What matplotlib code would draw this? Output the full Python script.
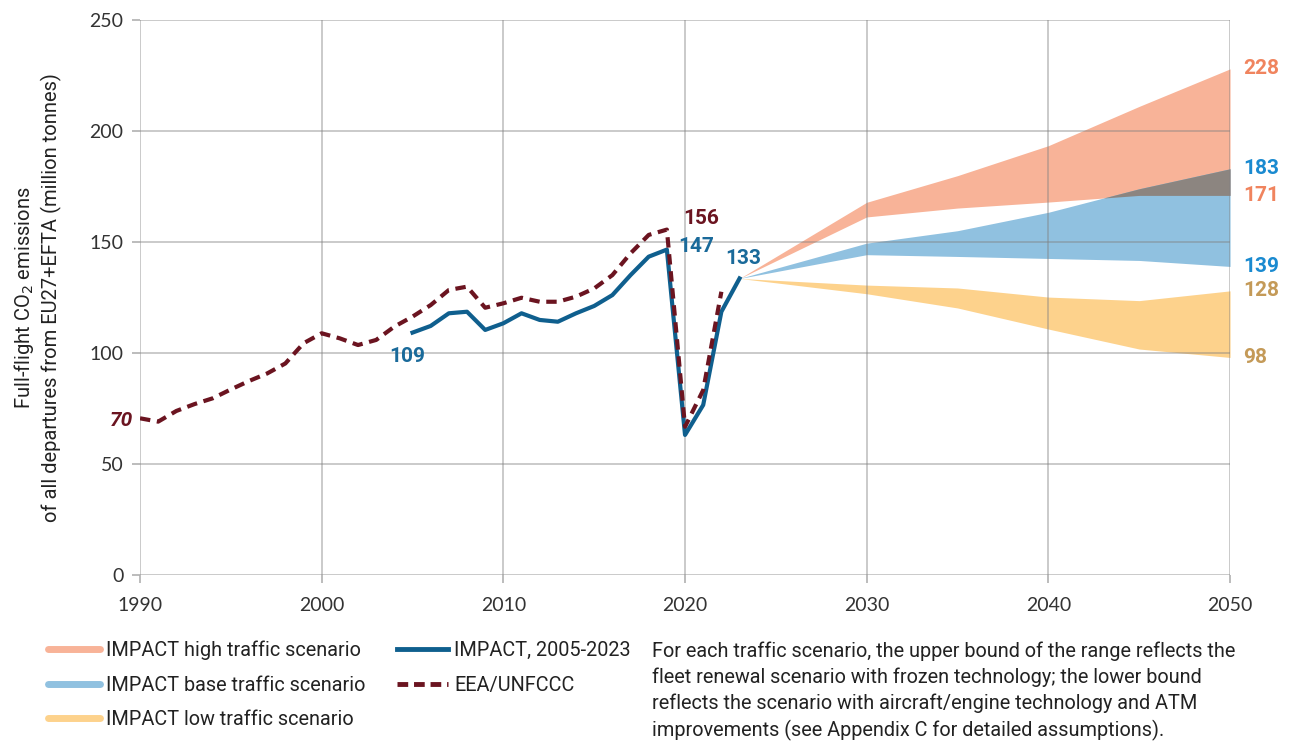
import numpy as np
import matplotlib.pyplot as plt
from matplotlib.lines import Line2D

# data
eea_years = list(range(1990, 2023))
eea_values = [70.6, 69.1, 73.9, 77.0, 79.6, 83.6, 87.4, 90.8, 95.3, 104.4,
              108.9, 106.6, 103.6, 105.9, 111.9, 116.4, 121.6, 128.4, 129.9, 120.4,
              122.4, 124.9, 123.1, 123.1, 125.4, 129.1, 135.1, 144.9, 153.2, 155.6,
              66.8, 83.3, 127.6]

impact_years = list(range(2005, 2024))
impact_values = [109.2, 112.2, 117.9, 118.6, 110.4, 113.4, 117.9, 114.9, 114.1, 117.9,
                 121.2, 126.1, 135.1, 143.4, 146.6, 63.1, 76.6, 118.6, 133.6]

scen_years = [2023, 2030, 2035, 2040, 2045, 2050]
high_upper = [133.6, 167.9, 179.9, 193.4, 211.1, 228.0]
high_lower = [133.6, 161.3, 165.3, 168.0, 171.0, 171.0]
base_upper = [133.6, 149.5, 155.1, 163.4, 174.0, 183.0]
base_lower = [133.6, 144.3, 143.5, 142.6, 141.7, 139.0]
low_upper = [133.6, 130.6, 129.3, 125.2, 123.6, 128.0]
low_lower = [133.6, 126.7, 120.3, 110.8, 101.8, 98.0]

end_labels = ['228', '183', '171', '139', '128', '98']
end_values = [228, 183, 171, 139, 128, 98]

c_high = '#f8b398'
c_base = '#90c1e0'
c_low = '#fdd28c'
c_overlap = '#8c8580'
c_impact = '#0f5f8e'
c_eea = '#6b1420'
end_colors = ['#f0845e', '#1a8ad0', '#f0845e', '#1a8ad0', '#c49a58', '#c49a58']

plt.rcParams['font.family'] = ['Roboto', 'DejaVu Sans']

fig = plt.figure(figsize=(13, 7.5), dpi=100)
ax = fig.add_axes([0.1077, 0.2333, 0.8385, 0.74])

# scenario ranges
ax.fill_between(scen_years, high_lower, high_upper, color=c_high, lw=0, zorder=1)
ax.fill_between(scen_years, base_lower, base_upper, color=c_base, lw=0, zorder=1)
ax.fill_between(scen_years, low_lower, low_upper, color=c_low, lw=0, zorder=1)

# overlap between base upper part and high range shows as grey
yrs = np.linspace(2023, 2050, 300)
hl = np.interp(yrs, scen_years, high_lower)
bu = np.interp(yrs, scen_years, base_upper)
hu = np.interp(yrs, scen_years, high_upper)
ax.fill_between(yrs, hl, np.minimum(bu, hu), where=bu > hl, color=c_overlap,
                lw=0, zorder=1.5, interpolate=True)

ax.plot(impact_years, impact_values, color=c_impact, lw=3, zorder=4)
ax.plot(eea_years, eea_values, color=c_eea, lw=3, ls=(0, (2.5, 1.6)), zorder=5)

ax.set_xlim(1990, 2050)
ax.set_ylim(0, 250)
ax.set_xticks(range(1990, 2051, 10))
ax.set_yticks(range(0, 251, 50))
ax.grid(True, color='#808080', alpha=0.45, lw=1.3, zorder=2)
ax.set_axisbelow(False)
for s in ax.spines.values():
    s.set_visible(False)
ax.tick_params(axis='both', colors='#b0b0b0', labelcolor='#333333', labelsize=14,
               length=6, width=1.2)
ax.tick_params(axis='x', pad=10)
ax.tick_params(axis='y', pad=6)
for lab in ax.get_xticklabels() + ax.get_yticklabels():
    lab.set_family(['Lato', 'DejaVu Sans'])

ax.set_ylabel('Full-flight CO$_2$ emissions\nof all departures from EU27+EFTA (million tonnes)',
              fontsize=14.5, color='#222222', labelpad=20, linespacing=1.25)

# value labels
for lab, val, col in zip(end_labels, end_values, end_colors):
    ax.text(2050.7, val, lab, color=col, fontsize=15, fontweight='bold', va='center', ha='left')
ax.text(2019.9, 160.5, '156', color=c_eea, fontsize=15, fontweight='bold', ha='left', va='center')
ax.text(2019.6, 148.0, '147', color='#1a6a9a', fontsize=15, fontweight='bold', ha='left', va='center')
ax.text(2022.2, 142.5, '133', color='#1a6a9a', fontsize=15, fontweight='bold', ha='left', va='center')
ax.text(2003.7, 98.5, '109', color='#1a6a9a', fontsize=15, fontweight='bold', ha='left', va='center')
ax.text(1989.6, 69.5, '70', color=c_eea, fontsize=15, fontweight='bold', fontstyle='italic',
        ha='right', va='center')

handles = [
    Line2D([], [], color=c_high, lw=5, solid_capstyle='round'),
    Line2D([], [], color=c_base, lw=5, solid_capstyle='round'),
    Line2D([], [], color=c_low, lw=5, solid_capstyle='round'),
    Line2D([], [], color=c_impact, lw=3.5),
    Line2D([], [], color=c_eea, lw=3.5, ls=(0, (2.2, 1.2))),
]
labels = ['IMPACT high traffic scenario', 'IMPACT base traffic scenario',
          'IMPACT low traffic scenario', 'IMPACT, 2005-2023', 'EEA/UNFCCC']
fig.legend(handles, labels, loc='upper left', bbox_to_anchor=(0.037, 0.146), ncol=2,
           frameon=False, fontsize=14.3, handlelength=2.6, handletextpad=0.3,
           columnspacing=1.6, labelspacing=0.78, labelcolor='#222222',
           borderaxespad=0, borderpad=0)

fig.text(0.5015, 0.145,
         'For each traffic scenario, the upper bound of the range reflects the\n'
         'fleet renewal scenario with frozen technology; the lower bound\n'
         'reflects the scenario with aircraft/engine technology and ATM\n'
         'improvements (see Appendix C for detailed assumptions).',
         fontsize=14.3, color='#222222', va='top', ha='left', linespacing=1.42)

fig.savefig('out.png', dpi=100)
